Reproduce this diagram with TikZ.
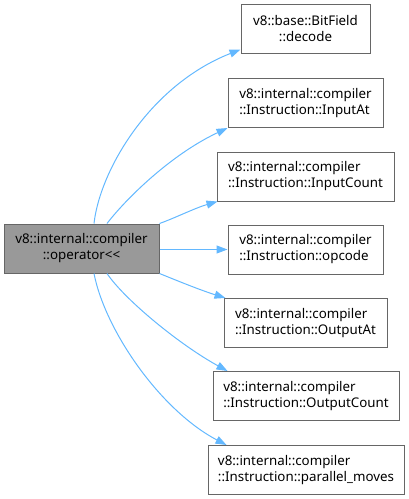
\documentclass[tikz,border=0pt]{standalone}
\usepackage{fontspec}
\setmainfont{Noto Sans}
\usetikzlibrary{arrows.meta}
\definecolor{edgeblue}{HTML}{63B8FF}
\definecolor{boxborder}{HTML}{666666}
\definecolor{srcfill}{HTML}{999999}
\begin{document}
\begin{tikzpicture}[x=1pt,y=-1pt,
  box/.style={draw=boxborder,line width=1pt,fill=white,minimum height=49pt,inner sep=0pt,
    font=\fontsize{13.33}{16}\selectfont,anchor=center},
  srcbox/.style={box,fill=srcfill,align=center},
  ctrbox/.style={box,align=center},
  lftbox/.style={box,align=left},
  edge/.style={draw=edgeblue,line width=1pt,-{Triangle[length=11pt,width=8pt]}}]
\useasboundingbox (0,0) rectangle (409,499);
\node[srcbox,minimum width=155pt] (src) at (81.5,248.5) {v8::internal::compiler\\::operator<{}<};
\node[ctrbox,minimum width=129pt] (bf) at (305.5,28.5) {v8::base::BitField\\::decode};
\node[lftbox,minimum width=155pt] (inat) at (305.5,103) {v8::internal::compiler\\::Instruction::InputAt};
\node[lftbox,minimum width=177pt] (incnt) at (305.5,176.5) {v8::internal::compiler\\::Instruction::InputCount};
\node[lftbox,minimum width=155pt] (opc) at (305.5,249.5) {v8::internal::compiler\\::Instruction::opcode};
\node[lftbox,minimum width=163pt] (outat) at (305.5,323) {v8::internal::compiler\\::Instruction::OutputAt};
\node[lftbox,minimum width=186pt] (outcnt) at (306,396) {v8::internal::compiler\\::Instruction::OutputCount};
\node[lftbox,minimum width=196pt] (pm) at (306,470) {v8::internal::compiler\\::Instruction::parallel\_moves};
\draw[edge] ([xshift=12.5pt]src.north) .. controls (100,170) and (150,85) .. ([yshift=4pt]bf.south west);
\draw[edge] ([xshift=25.5pt]src.north) .. controls (125,200) and (170,155) .. (inat.south west);
\draw[edge] (src.north east) .. controls (175,218) and (195,208) .. ([xshift=1pt]incnt.south west);
\draw[edge] (src.east |- opc.west) -- (opc.west);
\draw[edge] (src.south east) .. controls (178,281) and (200,290) .. ([xshift=2pt]outat.north west);
\draw[edge] ([xshift=25.5pt]src.south) .. controls (125,300) and (180,345) .. ([xshift=15pt]outcnt.north west);
\draw[edge] ([xshift=12.5pt]src.south) .. controls (105,330) and (160,410) .. ([xshift=19pt]pm.north west);
\end{tikzpicture}
\end{document}
